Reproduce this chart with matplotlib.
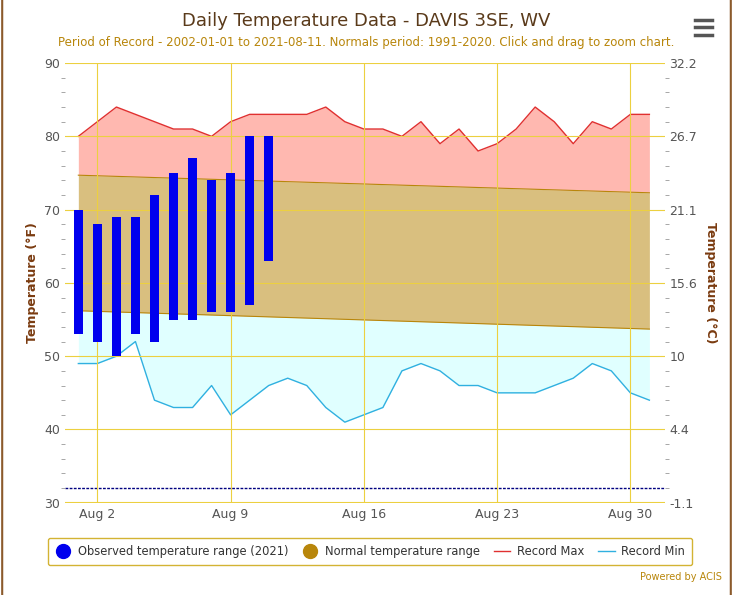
import numpy as np
import matplotlib.pyplot as plt
from matplotlib.patches import FancyBboxPatch
from matplotlib.lines import Line2D

days = np.arange(1, 32)
record_max = [80, 82, 84, 83, 82, 81, 81, 80, 82, 83, 83, 83, 83, 84, 82, 81, 81, 80, 82, 79, 81, 78, 79, 81, 84, 82, 79, 82, 81, 83, 83]
record_min = [49, 49, 50, 52, 44, 43, 43, 46, 42, 44, 46, 47, 46, 43, 41, 42, 43, 48, 49, 48, 46, 46, 45, 45, 45, 46, 47, 49, 48, 45, 44]
normal_max = np.linspace(74.7, 72.3, 31)
normal_min = np.linspace(56.2, 53.7, 31)
obs_days = np.arange(1, 12)
obs_low = [53, 52, 50, 53, 52, 55, 55, 56, 56, 57, 63]
obs_high = [70, 68, 69, 69, 72, 75, 77, 74, 75, 80, 80]
tick_days = [2, 9, 16, 23, 30]
tick_labels = ["Aug 2", "Aug 9", "Aug 16", "Aug 23", "Aug 30"]
f_ticks = [30, 40, 50, 60, 70, 80, 90]
c_labels = ["-1.1", "4.4", "10", "15.6", "21.1", "26.7", "32.2"]

fig = plt.figure(figsize=(7.33, 5.95), dpi=100)
ax = fig.add_axes([0.0887, 0.155, 0.818, 0.739])
gold = "#ecd040"

ax.fill_between(days, normal_max, record_max, color="#ffb8b0", lw=0)
ax.fill_between(days, normal_min, normal_max, color="#d9bf7f", lw=0)
ax.fill_between(days, record_min, normal_min, color="#e0ffff", lw=0)
ax.plot(days, normal_max, color="#b8860b", lw=0.8)
ax.plot(days, normal_min, color="#b8860b", lw=0.8)
ax.plot(days, record_max, color="#e03030", lw=1)
ax.plot(days, record_min, color="#30b0e0", lw=1)
ax.bar(obs_days, np.array(obs_high) - np.array(obs_low), bottom=obs_low, width=0.5, color="#0000ee", zorder=3)
ax.axhline(32, color="#000080", ls="--", lw=1, dashes=(2, 1))

ax.set_xlim(0.3, 31.8)
ax.set_ylim(30, 90)
ax.set_xticks(tick_days)
ax.set_xticklabels(tick_labels)
ax.set_yticks(f_ticks)
ax.set_yticks(np.arange(30, 91, 2), minor=True)
ax.grid(True, color=gold, lw=0.8)
ax.set_axisbelow(False)
for s in ax.spines.values():
    s.set_visible(False)
ax.axhline(30, color=gold, lw=1.5)
ax.tick_params(colors="#555555", labelsize=9, length=0)
ax.tick_params(axis="y", which="minor", length=3, color="#999999")
ax.set_ylabel("Temperature (°F)", color="#7a3b10", fontweight="bold", fontsize=9)

ax2 = ax.twinx()
ax2.set_ylim(30, 90)
ax2.set_yticks(f_ticks)
ax2.set_yticklabels(c_labels)
ax2.set_yticks(np.arange(30, 91, 2), minor=True)
for s in ax2.spines.values():
    s.set_visible(False)
ax2.tick_params(colors="#555555", labelsize=9, length=0)
ax2.tick_params(axis="y", which="minor", length=3, color="#999999")
ax2.set_ylabel("Temperature (°C)", color="#7a3b10", fontweight="bold", fontsize=9, rotation=270, labelpad=14)

fig.text(0.5, 0.965, "Daily Temperature Data - DAVIS 3SE, WV", ha="center", va="center", fontsize=13, color="#5a3a1a")
fig.text(0.5, 0.928, "Period of Record - 2002-01-01 to 2021-08-11. Normals period: 1991-2020. Click and drag to zoom chart.",
         ha="center", va="center", fontsize=8.5, color="#b8860b")
fig.text(0.985, 0.025, "Powered by ACIS", ha="right", fontsize=7, color="#b8860b")

handles = [
    Line2D([], [], marker="o", ls="", color="#0000ee", markersize=10),
    Line2D([], [], marker="o", ls="", color="#b8860b", markersize=10),
    Line2D([], [], color="#e03030", lw=1),
    Line2D([], [], color="#30b0e0", lw=1),
]
labels = ["Observed temperature range (2021)", "Normal temperature range", "Record Max", "Record Min"]
leg = fig.legend(handles, labels, loc="center", bbox_to_anchor=(0.505, 0.073), ncol=4, fontsize=8.3,
                 frameon=True, edgecolor="#c8a000", fancybox=True, handlelength=1.4, columnspacing=1.2,
                 handletextpad=0.6, borderpad=0.6)
for t in leg.get_texts():
    t.set_color("#333333")

fig.patches.append(FancyBboxPatch((0.003, -0.01), 0.994, 1.05, boxstyle="round,pad=0,rounding_size=0.01",
                                  transform=fig.transFigure, fill=False, edgecolor="#8b5a2b", lw=1.5))
for yy in (0.955, 0.942, 0.929):
    fig.add_artist(Line2D([0.948, 0.972], [yy + 0.012, yy + 0.012], color="#555555", lw=2.5, transform=fig.transFigure))

fig.savefig("out.png", dpi=100)
